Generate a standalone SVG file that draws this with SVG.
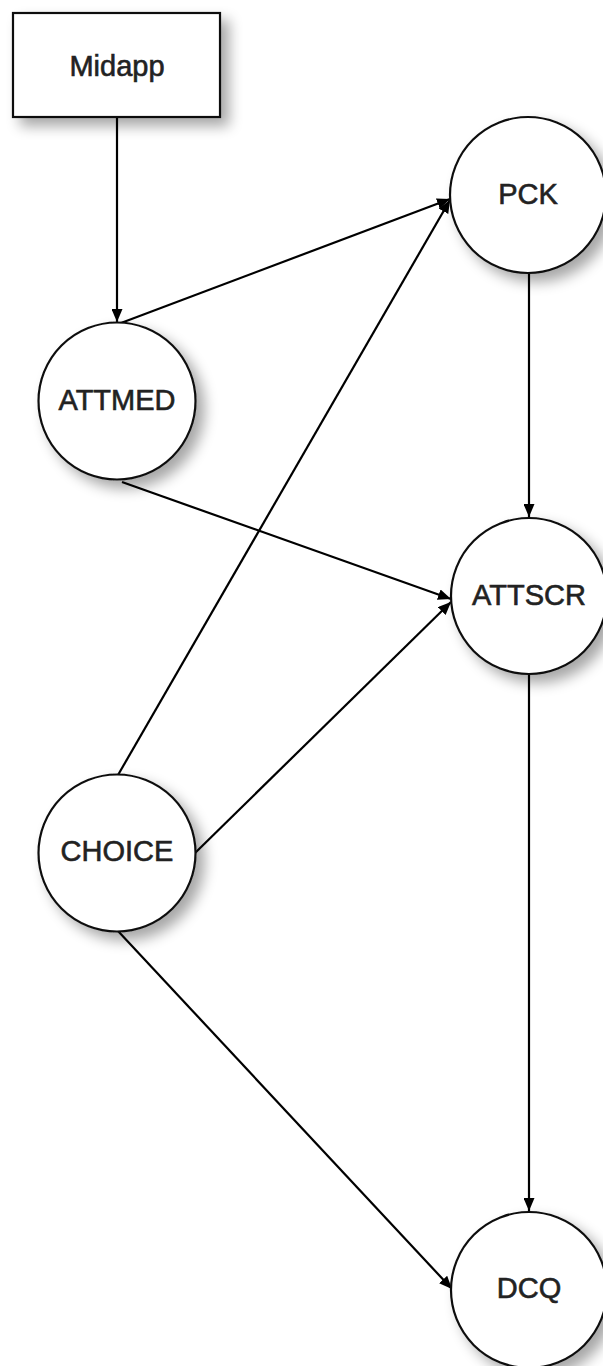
<svg xmlns="http://www.w3.org/2000/svg" width="603" height="1366" viewBox="0 0 603 1366">
  <defs>
    <filter id="shadow" x="-30%" y="-30%" width="170%" height="170%">
      <feGaussianBlur in="SourceAlpha" stdDeviation="7"/>
      <feOffset dx="8" dy="8" result="blur"/>
      <feComponentTransfer><feFuncA type="linear" slope="0.35"/></feComponentTransfer>
      <feMerge><feMergeNode/><feMergeNode in="SourceGraphic"/></feMerge>
    </filter>
    <marker id="arrow" viewBox="0 0 13 11" refX="13" refY="5.5" markerWidth="13" markerHeight="11" markerUnits="userSpaceOnUse" orient="auto">
      <path d="M0,0 L13,5.5 L0,11 Z" fill="#000"/>
    </marker>
  </defs>
  <style>
    .node { fill: #fff; stroke: #111; stroke-width: 2.2; }
    .label { font-family: "Liberation Sans", Arial, sans-serif; font-size: 29px; fill: #222; stroke: #222; stroke-width: 0.6; text-anchor: middle; dominant-baseline: central; }
    .edge { stroke: #000; stroke-width: 2.2; fill: none; marker-end: url(#arrow); }
  </style>
  <rect width="603" height="1366" fill="#fff"/>

  <g id="edges">
    <line class="edge" x1="117" y1="117" x2="117" y2="322"/>
    <line class="edge" x1="121" y1="323" x2="450" y2="199"/>
    <line class="edge" x1="529" y1="273" x2="529" y2="517"/>
    <line class="edge" x1="122" y1="482" x2="451" y2="599"/>
    <line class="edge" x1="118" y1="775" x2="450" y2="200"/>
    <line class="edge" x1="195" y1="853" x2="451" y2="602"/>
    <line class="edge" x1="529" y1="675" x2="529" y2="1211"/>
    <line class="edge" x1="118" y1="931" x2="452" y2="1289"/>
  </g>

  <g id="node-midapp">
    <rect class="node" x="13" y="13" width="207" height="104" filter="url(#shadow)"/>
    <text class="label" x="117" y="66">Midapp</text>
  </g>
  <g id="node-pck">
    <circle class="node" cx="528" cy="195" r="78" filter="url(#shadow)"/>
    <text class="label" x="528" y="194">PCK</text>
  </g>
  <g id="node-attmed">
    <circle class="node" cx="117" cy="401" r="78.5" filter="url(#shadow)"/>
    <text class="label" x="117" y="400">ATTMED</text>
  </g>
  <g id="node-attscr">
    <circle class="node" cx="529" cy="596" r="78" filter="url(#shadow)"/>
    <text class="label" x="529" y="595">ATTSCR</text>
  </g>
  <g id="node-choice">
    <circle class="node" cx="117" cy="853" r="78.5" filter="url(#shadow)"/>
    <text class="label" x="117" y="851">CHOICE</text>
  </g>
  <g id="node-dcq">
    <circle class="node" cx="529" cy="1290" r="78" filter="url(#shadow)"/>
    <text class="label" x="529" y="1288">DCQ</text>
  </g>
</svg>
